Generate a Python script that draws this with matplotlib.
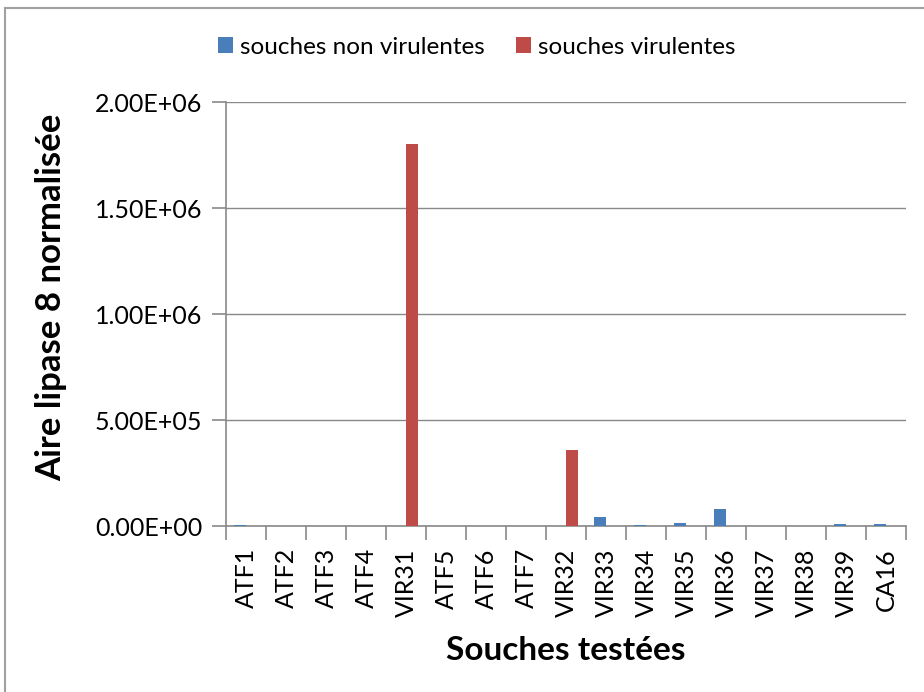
import matplotlib.pyplot as plt
import numpy as np
from matplotlib.ticker import FuncFormatter
from matplotlib.lines import Line2D

plt.rcParams['font.family'] = ['Lato', 'DejaVu Sans']

souches = ['ATF1', 'ATF2', 'ATF3', 'ATF4', 'VIR31', 'ATF5', 'ATF6', 'ATF7', 'VIR32',
           'VIR33', 'VIR34', 'VIR35', 'VIR36', 'VIR37', 'VIR38', 'VIR39', 'CA16']
non_virulentes = [2500, 2000, 2000, 2000, 0, 2000, 2000, 2000, 0,
                  42000, 2500, 14000, 82000, 2000, 2000, 8000, 8000]
virulentes = [0, 0, 0, 0, 1800000, 0, 0, 0, 360000,
              0, 0, 0, 0, 0, 0, 0, 0]

blue = '#4a7ebb'
red = '#be4b48'
gray = '#898989'

fig = plt.figure(figsize=(9.24, 6.92), dpi=100)
ax = fig.add_axes([226/924, 1 - 526/692, 680/924, 424/692])

x = np.arange(len(souches))
w = 0.3
ax.bar(x - w/2, non_virulentes, w, color=blue, label='souches non virulentes', zorder=3)
ax.bar(x + w/2, virulentes, w, color=red, label='souches virulentes', zorder=3)

ax.set_xlim(-0.5, len(souches) - 0.5)
ax.set_ylim(0, 2000000)
ax.set_yticks(np.arange(0, 2000001, 500000))
ax.yaxis.set_major_formatter(FuncFormatter(lambda v, p: '%.2E' % v))
ax.grid(axis='y', color=gray, linewidth=1, zorder=0)

ax.set_xticks(x)
ax.set_xticklabels(souches, rotation=90, fontsize=18)
# boundaries between categories as tick marks
ax.set_xticks(np.arange(-0.5, len(souches)), minor=True)
ax.tick_params(axis='x', which='major', length=0, pad=16)
ax.tick_params(axis='x', which='minor', length=10, color=gray, width=1.2)
ax.tick_params(axis='y', length=10, color=gray, width=1.2, labelsize=18, pad=7)

for s in ['top', 'right']:
    ax.spines[s].set_visible(False)
for s in ['left', 'bottom']:
    ax.spines[s].set_color(gray)
    ax.spines[s].set_linewidth(1.2)

ax.set_xlabel('Souches testées', fontsize=24, fontweight='bold', labelpad=14)
ax.set_ylabel('Aire lipase 8 normalisée', fontsize=25, fontweight='bold')
ax.yaxis.set_label_coords(-0.234, 0.54)

fig.legend(loc='center', bbox_to_anchor=(477/924, 1 - 47/692), ncol=2, frameon=False,
           fontsize=17.5, handlelength=0.6, handleheight=0.6, handletextpad=0.3,
           columnspacing=1.3)

# outer chart border
fig.add_artist(Line2D([5/924, 5/924], [0, 1 - 8/692], color='#a0a0a0', linewidth=1.5,
                      transform=fig.transFigure))
fig.add_artist(Line2D([5/924, 1], [1 - 8/692, 1 - 8/692], color='#a0a0a0', linewidth=1.5,
                      transform=fig.transFigure))

fig.savefig('out.png', dpi=100)
